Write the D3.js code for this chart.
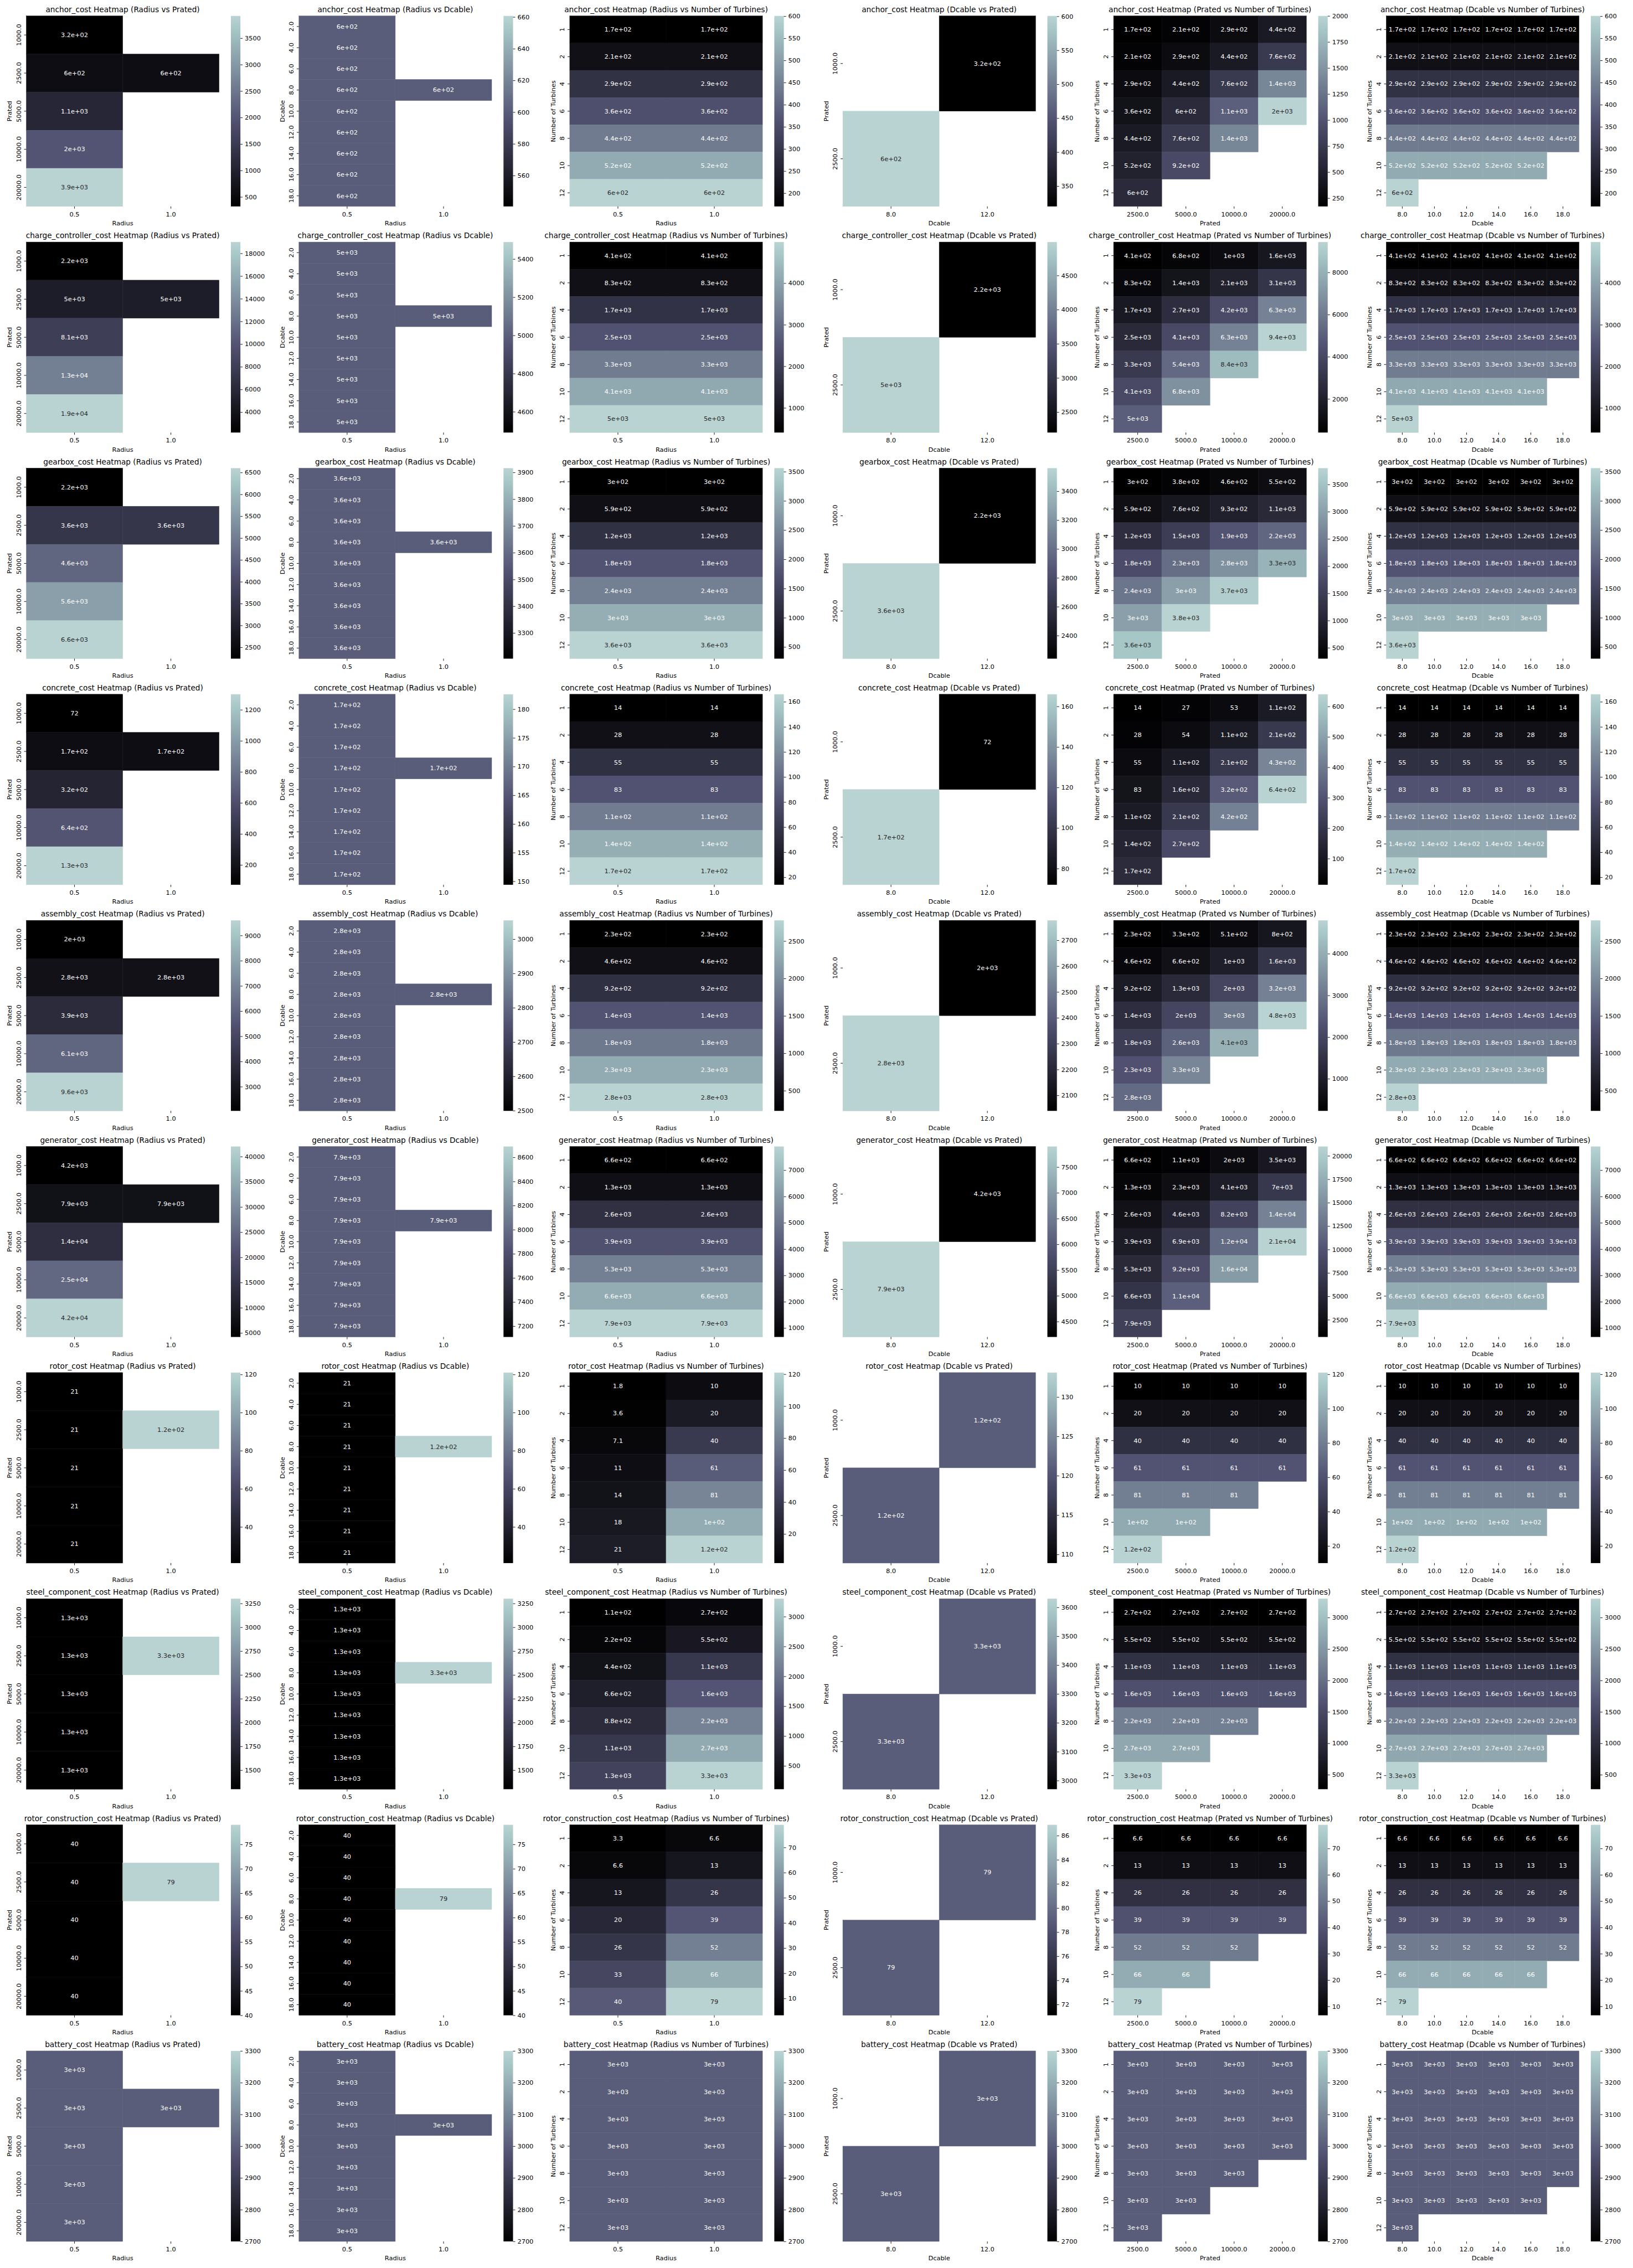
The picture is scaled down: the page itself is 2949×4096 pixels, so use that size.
<!DOCTYPE html>
<html><head><meta charset="utf-8">
<script src="https://cdn.jsdelivr.net/npm/d3@7"></script>
<style>html,body{margin:0;padding:0;background:#fff;} svg{display:block;}</style>
</head><body><svg id="chart"></svg>
<script>
const _ = null;
// ---------- categories / tick labels ----------
const radiusCats = ["0.5", "1.0"];
const pratedCats = ["1000.0", "2500.0", "5000.0", "10000.0", "20000.0"];
const dcableCats = ["2.0", "4.0", "6.0", "8.0", "10.0", "12.0", "14.0", "16.0", "18.0"];
const turbineCats = ["1", "2", "4", "6", "8", "10", "12"];
const dcablePairCats = ["8.0", "12.0"];
const pratedPairCats = ["1000.0", "2500.0"];
const pratedTurbCats = ["2500.0", "5000.0", "10000.0", "20000.0"];
const dcableTurbCats = ["8.0", "10.0", "12.0", "14.0", "16.0", "18.0"];

const costNames = ["anchor_cost", "charge_controller_cost", "gearbox_cost", "concrete_cost", "assembly_cost",
  "generator_cost", "rotor_cost", "steel_component_cost", "rotor_construction_cost", "battery_cost"];

// ---------- values (rows = y categories, columns = x categories) ----------
const anchorRP = [[320,_],[600.6,600.6],[1100,_],[2000,_],[3920,_]];
const anchorRD = [[600.6,_],[600.6,_],[600.6,_],[600.6,600.6],[600.6,_],[600.6,_],[600.6,_],[600.6,_],[600.6,_]];
const anchorRN = [[170,170],[210,210],[290,290],[360,360],[440,440],[520,520],[600.6,600.6]];
const anchorDP = [[_,320],[600.6,_]];
const anchorPN = [[170,210,290,440],[210,290,440,760],[290,440,760,1400],[360,600.6,1100,2000],[440,760,1400,_],[520,920,_,_],[600.6,_,_,_]];
const anchorDN = [[170,170,170,170,170,170],[210,210,210,210,210,210],[290,290,290,290,290,290],[360,360,360,360,360,360],[440,440,440,440,440,440],[520,520,520,520,520,_],[600.6,_,_,_,_,_]];

const chargeRP = [[2200,_],[4990,4990],[8100,_],[13000,_],[19000,_]];
const chargeRD = [[4990,_],[4990,_],[4990,_],[4990,4990],[4990,_],[4990,_],[4990,_],[4990,_],[4990,_]];
const chargeRN = [[406,406],[830,830],[1700,1700],[2500,2500],[3300,3300],[4100,4100],[4990,4990]];
const chargeDP = [[_,2200],[4990,_]];
const chargePN = [[406,680,1000,1600],[830,1400,2100,3100],[1700,2700,4200,6300],[2500,4100,6300,9440],[3300,5400,8400,_],[4100,6800,_,_],[4990,_,_,_]];
const chargeDN = [[406,406,406,406,406,406],[830,830,830,830,830,830],[1700,1700,1700,1700,1700,1700],[2500,2500,2500,2500,2500,2500],[3300,3300,3300,3300,3300,3300],[4100,4100,4100,4100,4100,_],[4990,_,_,_,_,_]];

const gearboxRP = [[2240,_],[3560,3560],[4600,_],[5600,_],[6600,_]];
const gearboxRD = [[3560,_],[3560,_],[3560,_],[3560,3560],[3560,_],[3560,_],[3560,_],[3560,_],[3560,_]];
const gearboxRN = [[300,300],[590,590],[1200,1200],[1800,1800],[2400,2400],[3000,3000],[3560,3560]];
const gearboxDP = [[_,2240],[3560,_]];
const gearboxPN = [[300,380,460,550],[590,760,930,1100],[1200,1500,1900,2200],[1800,2300,2800,3300],[2400,3000,3700,_],[3000,3800,_,_],[3560,_,_,_]];
const gearboxDN = [[300,300,300,300,300,300],[590,590,590,590,590,590],[1200,1200,1200,1200,1200,1200],[1800,1800,1800,1800,1800,1800],[2400,2400,2400,2400,2400,2400],[3000,3000,3000,3000,3000,_],[3560,_,_,_,_,_]];

const concreteRP = [[72,_],[166,166],[320,_],[640,_],[1300,_]];
const concreteRD = [[166,_],[166,_],[166,_],[166,166],[166,_],[166,_],[166,_],[166,_],[166,_]];
const concreteRN = [[14,14],[28,28],[55,55],[83,83],[110,110],[140,140],[166,166]];
const concreteDP = [[_,72],[166,_]];
const concretePN = [[14,27,53,110],[28,54,110,210],[55,110,210,430],[83,160,320,640],[110,210,420,_],[140,270,_,_],[166,_,_,_]];
const concreteDN = [[14,14,14,14,14,14],[28,28,28,28,28,28],[55,55,55,55,55,55],[83,83,83,83,83,83],[110,110,110,110,110,110],[140,140,140,140,140,_],[166,_,_,_,_,_]];

const assemblyRP = [[2040,_],[2777,2777],[3900,_],[6100,_],[9600,_]];
const assemblyRD = [[2777,_],[2777,_],[2777,_],[2777,2777],[2777,_],[2777,_],[2777,_],[2777,_],[2777,_]];
const assemblyRN = [[230,230],[460,460],[920,920],[1400,1400],[1800,1800],[2300,2300],[2777,2777]];
const assemblyDP = [[_,2040],[2777,_]];
const assemblyPN = [[230,330,510,800],[460,660,1000,1600],[920,1300,2000,3200],[1400,2000,3000,4800],[1800,2600,4100,_],[2300,3300,_,_],[2777,_,_,_]];
const assemblyDN = [[230,230,230,230,230,230],[460,460,460,460,460,460],[920,920,920,920,920,920],[1400,1400,1400,1400,1400,1400],[1800,1800,1800,1800,1800,1800],[2300,2300,2300,2300,2300,_],[2777,_,_,_,_,_]];

const generatorRP = [[4200,_],[7900,7900],[14000,_],[25000,_],[42000,_]];
const generatorRD = [[7900,_],[7900,_],[7900,_],[7900,7900],[7900,_],[7900,_],[7900,_],[7900,_],[7900,_]];
const generatorRN = [[660,660],[1300,1300],[2600,2600],[3900,3900],[5300,5300],[6600,6600],[7900,7900]];
const generatorDP = [[_,4200],[7900,_]];
const generatorPN = [[660,1100,2000,3500],[1300,2300,4100,7000],[2600,4600,8200,14000],[3900,6900,12000,21000],[5300,9200,16000,_],[6600,11000,_,_],[7900,_,_,_]];
const generatorDN = [[660,660,660,660,660,660],[1300,1300,1300,1300,1300,1300],[2600,2600,2600,2600,2600,2600],[3900,3900,3900,3900,3900,3900],[5300,5300,5300,5300,5300,5300],[6600,6600,6600,6600,6600,_],[7900,_,_,_,_,_]];

const rotorRP = [[21,_],[21,121],[21,_],[21,_],[21,_]];
const rotorRD = [[21,_],[21,_],[21,_],[21,121],[21,_],[21,_],[21,_],[21,_],[21,_]];
const rotorRN = [[1.8,10],[3.6,20],[7.1,40],[11,61],[14,81],[18,100],[21,121]];
const rotorDP = [[_,121],[121,_]];
const rotorPN = [[10,10,10,10],[20,20,20,20],[40,40,40,40],[61,61,61,61],[81,81,81,_],[100,100,_,_],[121,_,_,_]];
const rotorDN = [[10,10,10,10,10,10],[20,20,20,20,20,20],[40,40,40,40,40,40],[61,61,61,61,61,61],[81,81,81,81,81,81],[100,100,100,100,100,_],[121,_,_,_,_,_]];

const steelRP = [[1300,_],[1300,3300],[1300,_],[1300,_],[1300,_]];
const steelRD = [[1300,_],[1300,_],[1300,_],[1300,3300],[1300,_],[1300,_],[1300,_],[1300,_],[1300,_]];
const steelRN = [[110,270],[220,550],[440,1100],[660,1600],[880,2200],[1100,2700],[1300,3300]];
const steelDP = [[_,3300],[3300,_]];
const steelPN = [[270,270,270,270],[550,550,550,550],[1100,1100,1100,1100],[1600,1600,1600,1600],[2200,2200,2200,_],[2700,2700,_,_],[3300,_,_,_]];
const steelDN = [[270,270,270,270,270,270],[550,550,550,550,550,550],[1100,1100,1100,1100,1100,1100],[1600,1600,1600,1600,1600,1600],[2200,2200,2200,2200,2200,2200],[2700,2700,2700,2700,2700,_],[3300,_,_,_,_,_]];

const rotorConsRP = [[40,_],[40,79],[40,_],[40,_],[40,_]];
const rotorConsRD = [[40,_],[40,_],[40,_],[40,79],[40,_],[40,_],[40,_],[40,_],[40,_]];
const rotorConsRN = [[3.3,6.6],[6.6,13],[13,26],[20,39],[26,52],[33,66],[40,79]];
const rotorConsDP = [[_,79],[79,_]];
const rotorConsPN = [[6.6,6.6,6.6,6.6],[13,13,13,13],[26,26,26,26],[39,39,39,39],[52,52,52,_],[66,66,_,_],[79,_,_,_]];
const rotorConsDN = [[6.6,6.6,6.6,6.6,6.6,6.6],[13,13,13,13,13,13],[26,26,26,26,26,26],[39,39,39,39,39,39],[52,52,52,52,52,52],[66,66,66,66,66,_],[79,_,_,_,_,_]];

const batteryRP = [[3000,_],[3000,3000],[3000,_],[3000,_],[3000,_]];
const batteryRD = [[3000,_],[3000,_],[3000,_],[3000,3000],[3000,_],[3000,_],[3000,_],[3000,_],[3000,_]];
const batteryRN = [[3000,3000],[3000,3000],[3000,3000],[3000,3000],[3000,3000],[3000,3000],[3000,3000]];
const batteryDP = [[_,3000],[3000,_]];
const batteryPN = [[3000,3000,3000,3000],[3000,3000,3000,3000],[3000,3000,3000,3000],[3000,3000,3000,3000],[3000,3000,3000,_],[3000,3000,_,_],[3000,_,_,_]];
const batteryDN = [[3000,3000,3000,3000,3000,3000],[3000,3000,3000,3000,3000,3000],[3000,3000,3000,3000,3000,3000],[3000,3000,3000,3000,3000,3000],[3000,3000,3000,3000,3000,3000],[3000,3000,3000,3000,3000,_],[3000,_,_,_,_,_]];

const costPanels = [
  [anchorRP, anchorRD, anchorRN, anchorDP, anchorPN, anchorDN],
  [chargeRP, chargeRD, chargeRN, chargeDP, chargePN, chargeDN],
  [gearboxRP, gearboxRD, gearboxRN, gearboxDP, gearboxPN, gearboxDN],
  [concreteRP, concreteRD, concreteRN, concreteDP, concretePN, concreteDN],
  [assemblyRP, assemblyRD, assemblyRN, assemblyDP, assemblyPN, assemblyDN],
  [generatorRP, generatorRD, generatorRN, generatorDP, generatorPN, generatorDN],
  [rotorRP, rotorRD, rotorRN, rotorDP, rotorPN, rotorDN],
  [steelRP, steelRD, steelRN, steelDP, steelPN, steelDN],
  [rotorConsRP, rotorConsRD, rotorConsRN, rotorConsDP, rotorConsPN, rotorConsDN],
  [batteryRP, batteryRD, batteryRN, batteryDP, batteryPN, batteryDN]
];

const panelDefs = [
  {xCats: radiusCats, yCats: pratedCats, xLabel: "Radius", yLabel: "Prated", suffix: "(Radius vs Prated)"},
  {xCats: radiusCats, yCats: dcableCats, xLabel: "Radius", yLabel: "Dcable", suffix: "(Radius vs Dcable)"},
  {xCats: radiusCats, yCats: turbineCats, xLabel: "Radius", yLabel: "Number of Turbines", suffix: "(Radius vs Number of Turbines)"},
  {xCats: dcablePairCats, yCats: pratedPairCats, xLabel: "Dcable", yLabel: "Prated", suffix: "(Dcable vs Prated)"},
  {xCats: pratedTurbCats, yCats: turbineCats, xLabel: "Prated", yLabel: "Number of Turbines", suffix: "(Prated vs Number of Turbines)"},
  {xCats: dcableTurbCats, yCats: turbineCats, xLabel: "Dcable", yLabel: "Number of Turbines", suffix: "(Dcable vs Number of Turbines)"}
];

// ---------- layout (reference pixel space 3600 x 5000) ----------
const W = 3600, H = 5000;
const colLeft = [58, 659, 1256, 1858, 2455, 3056];
const hmW = 425, hmH = 420;
const rowTop0 = 35, rowPitch = 498.5;
const cbOffset = 451, cbW = 21;
const PT = 100 / 72;
const fsTick = 10 * PT, fsTitle = 12 * PT;
const tickLen = 3.5 * PT, tickPad = 3.5 * PT;
const FONT = "DejaVu Sans";

// ---------- colormap: matplotlib 'bone' over [0, 0.8] ----------
const boneR = [[0, 0], [0.746032, 0.652778], [1, 1]];
const boneG = [[0, 0], [0.365079, 0.319444], [0.746032, 0.777778], [1, 1]];
const boneB = [[0, 0], [0.365079, 0.444444], [1, 1]];
function seg(pts, x) {
  for (let i = 1; i < pts.length; i++) {
    if (x <= pts[i][0]) {
      const [x0, y0] = pts[i - 1], [x1, y1] = pts[i];
      return y0 + (y1 - y0) * (x - x0) / (x1 - x0);
    }
  }
  return pts[pts.length - 1][1];
}
function cmapRGB(t) {
  t = Math.max(0, Math.min(1, t));
  const i = Math.min(255, Math.floor(t * 256));
  const u = 0.8 * i / 255;
  return [seg(boneR, u), seg(boneG, u), seg(boneB, u)];
}
function rgbStr(c) { return d3.rgb(c[0] * 255, c[1] * 255, c[2] * 255).formatHex(); }
function luminance(c) {
  const l = c.map(v => v <= 0.03928 ? v / 12.92 : Math.pow((v + 0.055) / 1.055, 2.4));
  return 0.2126 * l[0] + 0.7152 * l[1] + 0.0722 * l[2];
}

// ---------- python-like ".2g" ----------
function fmt2g(v) {
  let s = v.toPrecision(2);
  let m = s, e = null;
  if (s.indexOf("e") >= 0) { [m, e] = s.split("e"); }
  if (m.indexOf(".") >= 0) m = m.replace(/0+$/, "").replace(/\.$/, "");
  if (e !== null) {
    const sign = e[0] === "-" ? "-" : "+";
    let digits = e.replace(/^[+-]/, "");
    if (digits.length < 2) digits = "0" + digits;
    return m + "e" + sign + digits;
  }
  return m;
}

// ---------- matplotlib MaxNLocator(nbins=9, steps=[1,2,2.5,5,10]) ----------
function mplTicks(vmin, vmax) {
  const nbins = 9;
  const dv = vmax - vmin;
  const meanv = (vmax + vmin) / 2;
  let offset = 0;
  if (Math.abs(meanv) / dv >= 100) offset = Math.sign(meanv) * Math.pow(10, Math.floor(Math.log10(Math.abs(meanv))));
  const scale = Math.pow(10, Math.floor(Math.log10(dv / nbins)));
  const steps = [0.1, 0.2, 0.25, 0.5, 1, 2, 2.5, 5, 10, 20].map(s => s * scale);
  const a = vmin - offset, b = vmax - offset;
  const raw = (b - a) / nbins;
  let istep = steps.findIndex(s => s >= raw * (1 - 1e-12));
  let ticks = [];
  const close = (x, y) => Math.abs(x - y) < 1e-10;
  for (let i = istep; i >= 0; i--) {
    const step = steps[i];
    const best = Math.floor(a / step) * step;
    const le = x => { const d = Math.floor(x / step), m = x - d * step; return close(m / step, 1) ? d + 1 : d; };
    const ge = x => { const d = Math.floor(x / step), m = x - d * step; return close(m / step, 0) ? d : d + 1; };
    const low = le(a - best), high = ge(b - best);
    ticks = d3.range(low, high + 1).map(k => k * step + best + offset);
    const eps = dv * 1e-9;
    const n = ticks.filter(t => t >= vmin - eps && t <= vmax + eps).length;
    if (n >= 2) { ticks.step = step; break; }
  }
  const eps = dv * 1e-9;
  const st = ticks.step;
  const out = ticks.filter(t => t >= vmin - eps && t <= vmax + eps);
  out.step = st;
  return out;
}
function cbFormat(step) {
  const dec = step >= 1 ? 0 : Math.ceil(-Math.log10(step) - 1e-9);
  return v => (Math.abs(v) < step * 1e-6 ? 0 : v).toFixed(dec);
}

// ---------- draw ----------
const svg = d3.select("#chart")
  .attr("width", 2949).attr("height", 4096)
  .attr("viewBox", `0 0 ${W} ${H}`);
svg.append("rect").attr("width", W).attr("height", H).attr("fill", "#ffffff");

const grad = svg.append("defs").append("linearGradient")
  .attr("id", "boneGrad").attr("x1", 0).attr("y1", 1).attr("x2", 0).attr("y2", 0);
d3.range(0, 257).forEach(k => {
  const t = k / 256;
  grad.append("stop").attr("offset", t).attr("stop-color", rgbStr(cmapRGB(Math.min(t, 0.99999))));
});

function styleAxis(g) {
  g.attr("font-family", FONT).attr("font-size", fsTick);
  g.select(".domain").remove();
  g.selectAll(".tick line").attr("stroke", "#000").attr("stroke-width", 0.8 * PT);
  g.selectAll(".tick text").attr("fill", "#000");
}

costNames.forEach((costName, r) => {
  const top = rowTop0 + r * rowPitch;
  panelDefs.forEach((pd, c) => {
    const left = colLeft[c];
    const values = costPanels[r][c];
    const g = svg.append("g");
    const x = d3.scaleBand().domain(pd.xCats).range([left, left + hmW]);
    const y = d3.scaleBand().domain(pd.yCats).range([top, top + hmH]);

    const cells = [];
    values.forEach((row, i) => row.forEach((v, j) => {
      if (v !== null) cells.push({xc: pd.xCats[j], yc: pd.yCats[i], v});
    }));
    let vmin = d3.min(cells, d => d.v), vmax = d3.max(cells, d => d.v);
    if (vmax - vmin <= Math.max(Math.abs(vmin), Math.abs(vmax)) * 1e-12) {
      vmin -= 0.1 * Math.abs(vmin); vmax += 0.1 * Math.abs(vmax);
    }
    const norm = d3.scaleLinear().domain([vmin, vmax]).range([0, 1]);

    g.selectAll("rect.cell").data(cells).join("rect")
      .attr("class", "cell")
      .attr("x", d => x(d.xc)).attr("y", d => y(d.yc))
      .attr("width", x.bandwidth()).attr("height", y.bandwidth())
      .each(function (d) {
        const col = cmapRGB(norm(d.v));
        d.fill = rgbStr(col);
        d.tc = luminance(col) > 0.408 ? "#262626" : "#ffffff";
      })
      .attr("fill", d => d.fill).attr("stroke", d => d.fill).attr("stroke-width", 0.6);

    g.selectAll("text.annot").data(cells).join("text")
      .attr("class", "annot")
      .attr("x", d => x(d.xc) + x.bandwidth() / 2)
      .attr("y", d => y(d.yc) + y.bandwidth() / 2)
      .attr("dy", "0.34em")
      .attr("text-anchor", "middle")
      .attr("font-family", FONT).attr("font-size", fsTick)
      .attr("fill", d => d.tc)
      .text(d => fmt2g(d.v));

    // x axis
    const gx = g.append("g").attr("transform", `translate(0,${top + hmH})`)
      .call(d3.axisBottom(x).tickSize(tickLen).tickPadding(7.3));
    styleAxis(gx);

    // y axis with vertical labels
    const gy = g.append("g").attr("transform", `translate(${left},0)`)
      .call(d3.axisLeft(y).tickSize(tickLen));
    styleAxis(gy);
    gy.selectAll(".tick text")
      .attr("x", null).attr("dy", null)
      .attr("text-anchor", "middle")
      .attr("transform", "translate(-12,0) rotate(-90)");

    // labels & title
    g.append("text")
      .attr("x", left + hmW / 2).attr("y", top + hmH + 42)
      .attr("text-anchor", "middle").attr("font-family", FONT).attr("font-size", fsTick)
      .attr("fill", "#000").text(pd.xLabel);
    g.append("text")
      .attr("transform", `translate(${left - 32},${top + hmH / 2}) rotate(-90)`)
      .attr("text-anchor", "middle").attr("font-family", FONT).attr("font-size", fsTick)
      .attr("fill", "#000").text(pd.yLabel);
    g.append("text")
      .attr("x", left + hmW / 2).attr("y", top - 8.33)
      .attr("text-anchor", "middle").attr("font-family", FONT).attr("font-size", fsTitle)
      .attr("fill", "#000").text(`${costName} Heatmap ${pd.suffix}`);

    // colorbar
    const cbLeft = left + cbOffset;
    g.append("rect").attr("x", cbLeft).attr("y", top).attr("width", cbW).attr("height", hmH)
      .attr("fill", "url(#boneGrad)");
    const cbScale = d3.scaleLinear().domain([vmin, vmax]).range([top + hmH, top]);
    const ticks = mplTicks(vmin, vmax);
    const gc = g.append("g").attr("transform", `translate(${cbLeft + cbW},0)`)
      .call(d3.axisRight(cbScale).tickValues(ticks).tickFormat(cbFormat(ticks.step))
        .tickSize(tickLen).tickPadding(tickPad));
    styleAxis(gc);
  });
});
</script></body></html>
